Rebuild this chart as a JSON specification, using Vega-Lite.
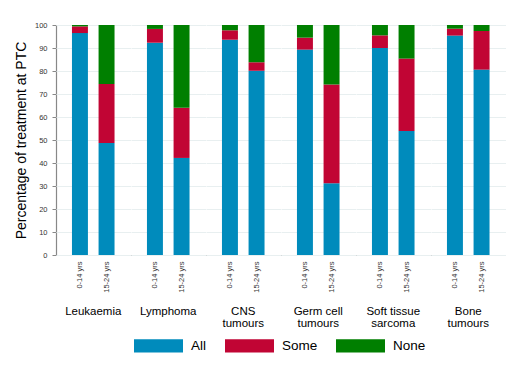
{
  "$schema": "https://vega.github.io/schema/vega-lite/v6.json",
  "padding": {"left": 14, "top": 21, "right": 5, "bottom": 5},
  "background": "white",
  "config": {"font": "Liberation Sans", "view": {"stroke": null}, "facet": {"spacing": 0}},
  "data": {"values": [
    {"group": "Leukaemia", "age": "0-14 yrs", "treat": "All", "k": 1, "pct": 96.5},
    {"group": "Leukaemia", "age": "0-14 yrs", "treat": "Some", "k": 2, "pct": 2.9},
    {"group": "Leukaemia", "age": "0-14 yrs", "treat": "None", "k": 3, "pct": 0.6},
    {"group": "Leukaemia", "age": "15-24 yrs", "treat": "All", "k": 1, "pct": 48.7},
    {"group": "Leukaemia", "age": "15-24 yrs", "treat": "Some", "k": 2, "pct": 25.6},
    {"group": "Leukaemia", "age": "15-24 yrs", "treat": "None", "k": 3, "pct": 25.7},
    {"group": "Lymphoma", "age": "0-14 yrs", "treat": "All", "k": 1, "pct": 92.3},
    {"group": "Lymphoma", "age": "0-14 yrs", "treat": "Some", "k": 2, "pct": 6.0},
    {"group": "Lymphoma", "age": "0-14 yrs", "treat": "None", "k": 3, "pct": 1.7},
    {"group": "Lymphoma", "age": "15-24 yrs", "treat": "All", "k": 1, "pct": 42.2},
    {"group": "Lymphoma", "age": "15-24 yrs", "treat": "Some", "k": 2, "pct": 21.8},
    {"group": "Lymphoma", "age": "15-24 yrs", "treat": "None", "k": 3, "pct": 36.0},
    {"group": "CNS tumours", "age": "0-14 yrs", "treat": "All", "k": 1, "pct": 93.6},
    {"group": "CNS tumours", "age": "0-14 yrs", "treat": "Some", "k": 2, "pct": 4.1},
    {"group": "CNS tumours", "age": "0-14 yrs", "treat": "None", "k": 3, "pct": 2.3},
    {"group": "CNS tumours", "age": "15-24 yrs", "treat": "All", "k": 1, "pct": 80.1},
    {"group": "CNS tumours", "age": "15-24 yrs", "treat": "Some", "k": 2, "pct": 3.7},
    {"group": "CNS tumours", "age": "15-24 yrs", "treat": "None", "k": 3, "pct": 16.2},
    {"group": "Germ cell tumours", "age": "0-14 yrs", "treat": "All", "k": 1, "pct": 89.3},
    {"group": "Germ cell tumours", "age": "0-14 yrs", "treat": "Some", "k": 2, "pct": 5.2},
    {"group": "Germ cell tumours", "age": "0-14 yrs", "treat": "None", "k": 3, "pct": 5.5},
    {"group": "Germ cell tumours", "age": "15-24 yrs", "treat": "All", "k": 1, "pct": 31.2},
    {"group": "Germ cell tumours", "age": "15-24 yrs", "treat": "Some", "k": 2, "pct": 42.9},
    {"group": "Germ cell tumours", "age": "15-24 yrs", "treat": "None", "k": 3, "pct": 25.9},
    {"group": "Soft tissue sarcoma", "age": "0-14 yrs", "treat": "All", "k": 1, "pct": 90.0},
    {"group": "Soft tissue sarcoma", "age": "0-14 yrs", "treat": "Some", "k": 2, "pct": 5.5},
    {"group": "Soft tissue sarcoma", "age": "0-14 yrs", "treat": "None", "k": 3, "pct": 4.5},
    {"group": "Soft tissue sarcoma", "age": "15-24 yrs", "treat": "All", "k": 1, "pct": 53.9},
    {"group": "Soft tissue sarcoma", "age": "15-24 yrs", "treat": "Some", "k": 2, "pct": 31.5},
    {"group": "Soft tissue sarcoma", "age": "15-24 yrs", "treat": "None", "k": 3, "pct": 14.6},
    {"group": "Bone tumours", "age": "0-14 yrs", "treat": "All", "k": 1, "pct": 95.4},
    {"group": "Bone tumours", "age": "0-14 yrs", "treat": "Some", "k": 2, "pct": 3.0},
    {"group": "Bone tumours", "age": "0-14 yrs", "treat": "None", "k": 3, "pct": 1.6},
    {"group": "Bone tumours", "age": "15-24 yrs", "treat": "All", "k": 1, "pct": 80.6},
    {"group": "Bone tumours", "age": "15-24 yrs", "treat": "Some", "k": 2, "pct": 16.8},
    {"group": "Bone tumours", "age": "15-24 yrs", "treat": "None", "k": 3, "pct": 2.6}
  ]},
  "facet": {
    "column": {
      "field": "group", "type": "nominal",
      "sort": ["Leukaemia", "Lymphoma", "CNS tumours", "Germ cell tumours", "Soft tissue sarcoma", "Bone tumours"],
      "header": {
        "title": null, "labelOrient": "bottom", "labelFontSize": 11.5, "labelColor": "#000",
        "labelPadding": 14, "labelLineHeight": 11.5, "labelBaseline": "top",
        "labelExpr": "indexof(datum.value, ' ') < 0 ? datum.value : [slice(datum.value, 0, lastindexof(datum.value, ' ')), slice(datum.value, lastindexof(datum.value, ' ') + 1)]"
      }
    }
  },
  "spec": {
    "width": 74.5,
    "height": 230,
    "mark": {"type": "bar"},
    "encoding": {
      "x": {
        "field": "age", "type": "nominal", "sort": ["0-14 yrs", "15-24 yrs"],
        "scale": {"paddingInner": 0.4, "paddingOuter": 0.6},
        "axis": {"title": null, "labelAngle": -90, "labelFontSize": 7.5, "labelColor": "#333", "ticks": false, "labelPadding": 6, "domainColor": "#888", "domainWidth": 1.2}
      },
      "y": {
        "field": "pct", "type": "quantitative", "stack": "zero",
        "scale": {"domain": [0, 100], "nice": false},
        "axis": {"title": "Percentage of treatment at PTC", "titleFontSize": 14, "titleFontWeight": "normal", "titleColor": "#000", "titlePadding": 6,
                 "values": [0, 10, 20, 30, 40, 50, 60, 70, 80, 90, 100], "labelFontSize": 7.5, "labelColor": "#333", "labelPadding": 5,
                 "tickSize": 4, "tickColor": "#888", "domainColor": "#888", "domainWidth": 1.2, "gridColor": "#e8eff0"}
      },
      "color": {
        "field": "treat", "type": "nominal",
        "scale": {"domain": ["All", "Some", "None"], "range": ["#008BBC", "#C10534", "#007F00"]},
        "legend": {"title": null, "orient": "none", "legendX": 78, "legendY": 296, "direction": "horizontal", "labelFontSize": 13.5, "labelColor": "#000",
                   "symbolType": "M-1,-0.27H1V0.27H-1Z", "symbolSize": 2401, "symbolStrokeWidth": 0, "symbolOpacity": 1,
                   "labelOffset": 8, "columnPadding": 18}
      },
      "order": {"field": "k", "type": "quantitative"}
    }
  }
}
